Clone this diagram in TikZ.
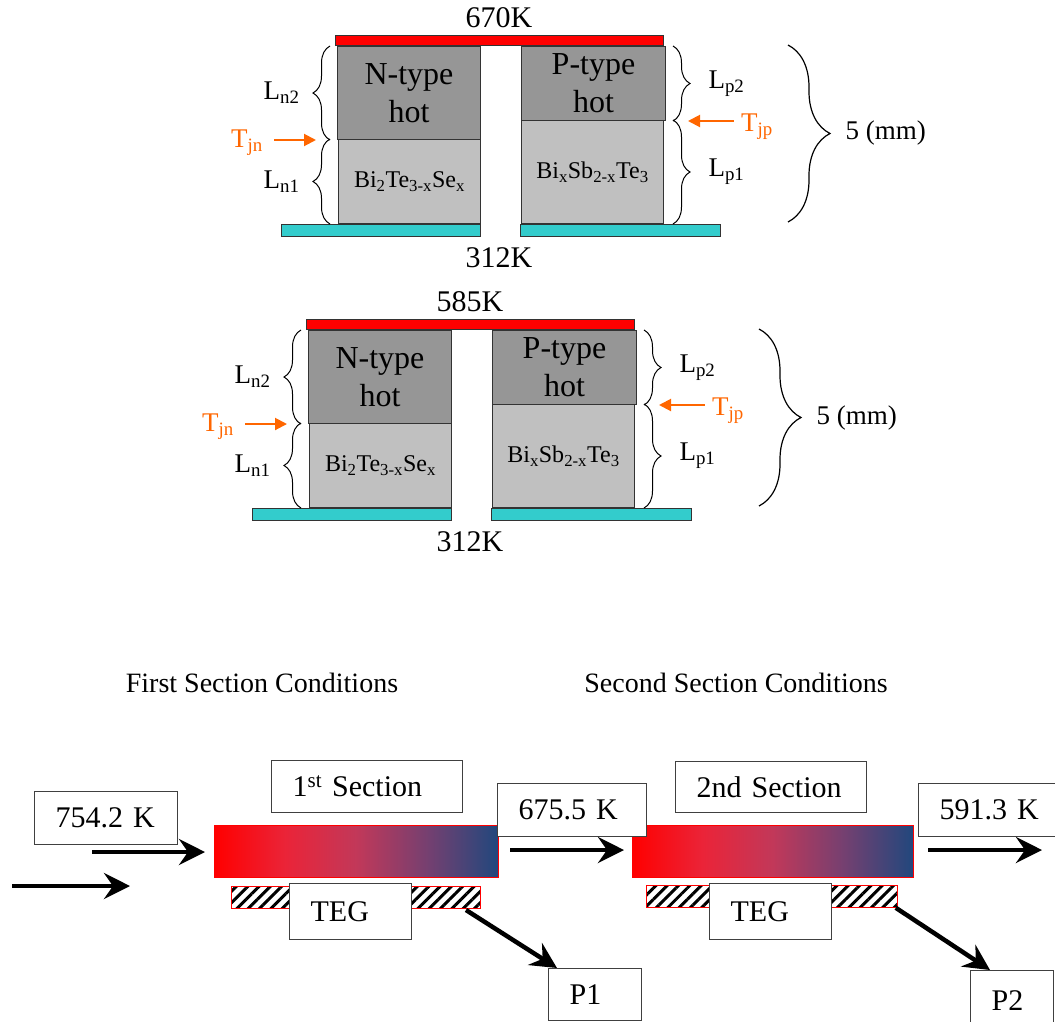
\documentclass[tikz,border=0pt]{standalone}
\usepackage{fontspec}
\setmainfont{Liberation Serif}
\usetikzlibrary{arrows.meta, positioning, decorations.pathreplacing, patterns.meta}

\definecolor{coldblue}{RGB}{51,204,204}
\definecolor{hotleg}{RGB}{150,150,150}
\definecolor{coldleg}{RGB}{192,192,192}
\definecolor{jcol}{RGB}{255,102,0}

\pgfdeclarehorizontalshading{pipeshade}{100bp}{rgb(0bp)=(1,0,0); rgb(25bp)=(1,0,0);
	rgb(37.5bp)=(0.92,0.14,0.22); rgb(50bp)=(0.76,0.22,0.35); rgb(62.5bp)=(0.46,0.25,0.44);
	rgb(75bp)=(0.13,0.28,0.49); rgb(100bp)=(0.13,0.28,0.49)}

\begin{document}
\begin{tikzpicture}[x=1pt, y=-1pt,
		plate/.style={draw=black!80, line width=1pt, inner sep=0pt, anchor=north west},
		hotplate/.style={plate, fill=red},
		coldplate/.style={plate, fill=coldblue},
		legtop/.style={plate, fill=hotleg, align=center, font=\fontsize{32}{38}\selectfont},
		legbot/.style={plate, fill=coldleg, font=\fontsize{24}{28}\selectfont},
		templbl/.style={inner sep=0pt, font=\fontsize{30}{36}\selectfont},
		dimlbl/.style={inner sep=0pt, font=\fontsize{27}{32}\selectfont},
		jlbl/.style={dimlbl, text=jcol},
		jarrow/.style={draw=jcol, line width=2pt, -{Triangle[length=12pt,width=12pt]}},
		brc/.style={decorate, decoration={brace, amplitude=17pt}, line width=1pt},
		bigbrc/.style={decorate, decoration={brace, amplitude=42pt}, line width=1.2pt},
		condlbl/.style={inner sep=0pt, font=\fontsize{28}{34}\selectfont},
		tbox/.style={draw=black!75, line width=1.2pt, fill=white, anchor=north west, inner ysep=0pt, inner xsep=21pt, align=left, font=\fontsize{30}{36}\selectfont},
		hotpipe/.style={draw=red, line width=0.6pt, shading=pipeshade, inner sep=0pt, anchor=north west},
		tegstrip/.style={draw=red, line width=0.8pt, pattern={Lines[angle=45, distance=8pt, line width=3pt]}, inner sep=0pt, anchor=north west},
		flow/.style={line width=4.5pt, -{Stealth[length=26pt, width=26pt, inset=9pt]}}]
	
	\useasboundingbox (0,0) rectangle (1055,1021);
	
	% the two leg pairs
	\foreach \s/\dx/\dy/\hot in {a/0/0/670K, b/-29/284/585K}{
		\begin{scope}[shift={(\dx,\dy)}]
			\node[hotplate, minimum width=328pt, minimum height=10pt] (hot\s) at (335,35) {};
			\node[legtop, minimum width=143pt, minimum height=93pt] (ntop\s) at (337,46) {N-type\\hot};
			\node[legbot, minimum width=142pt, minimum height=84pt] (nbot\s) at (338,139) {Bi\textsubscript{2}Te\textsubscript{3-x}Se\textsubscript{x}};
			\node[legtop, minimum width=144pt, minimum height=74pt] (ptop\s) at (521,46) {P-type\\hot};
			\node[legbot, minimum width=142pt, minimum height=103pt] (pbot\s) at (521,120) {Bi\textsubscript{x}Sb\textsubscript{2-x}Te\textsubscript{3}};
			\node[coldplate, minimum width=199pt, minimum height=12pt] (coldn\s) at (281,224) {};
			\node[coldplate, minimum width=200pt, minimum height=12pt] (coldp\s) at (520,224) {};
			
			\node[templbl] (thot\s) at (499,18) {\hot};
			\node[templbl] (tcold\s) at (499,258) {312K};
			
			\draw[brc] ([xshift=-7pt]ntop\s.south west) -- ([xshift=-7pt]ntop\s.north west)
				node[dimlbl, midway, left=30pt] (ln2\s) {L\textsubscript{n2}};
			\draw[brc] ([xshift=-8pt]nbot\s.south west) -- ([xshift=-8pt]nbot\s.north west)
				node[dimlbl, midway, left=30pt] (ln1\s) {L\textsubscript{n1}};
			\draw[brc] ([xshift=7pt]ptop\s.north east) -- ([xshift=7pt]ptop\s.south east)
				node[dimlbl, midway, right=35pt] (lp2\s) {L\textsubscript{p2}};
			\draw[brc] ([xshift=9pt]pbot\s.north east) -- ([xshift=9pt]pbot\s.south east)
				node[dimlbl, midway, right=35pt] (lp1\s) {L\textsubscript{p1}};
			\draw[bigbrc] (788,45) -- (788,222)
				node[dimlbl, midway, right=57pt] (len\s) {5 (mm)};
			
			\node[jlbl] (tjn\s) at (247,143) {T\textsubscript{jn}};
			\node[jlbl] (tjp\s) at (757,127) {T\textsubscript{jp}};
			\draw[jarrow, shorten <=11pt, shorten >=21pt] (tjn\s.east |- ntop\s.south west) -- (ntop\s.south west);
			\draw[jarrow, shorten <=7pt, shorten >=22pt] (tjp\s.west |- ptop\s.south east) -- (ptop\s.south east);
		\end{scope}
	}
	
	% sections
	\node[condlbl] (cond1) at (262,683) {First Section Conditions};
	\node[condlbl] (cond2) at (736,683) {Second Section Conditions};
	
	\node[hotpipe, minimum width=284pt, minimum height=52pt] (pipe1) at (214,825) {};
	\node[hotpipe, minimum width=281pt, minimum height=52pt] (pipe2) at (632,825) {};
	\node[tegstrip, minimum width=249pt, minimum height=22pt] (strip1) at (230,885) {};
	\node[tegstrip, minimum width=251pt, minimum height=22pt] (strip2) at (646,885) {};
	
	\node[tbox, minimum width=143pt, text width=101pt, minimum height=53pt] (tin) at (34,791) {754.2 K};
	\node[tbox, minimum width=191pt, text width=149pt, minimum height=52pt] (sec1) at (271,760) {1\textsuperscript{st} Section};
	\node[tbox, minimum width=149pt, text width=107pt, minimum height=53pt] (tmid) at (497,783) {675.5 K};
	\node[tbox, minimum width=191pt, text width=149pt, minimum height=51pt] (sec2) at (675,761) {2nd Section};
	\node[tbox, minimum width=145pt, text width=103pt, minimum height=53pt] (tout) at (918,783) {591.3 K};
	\node[tbox, minimum width=122pt, text width=80pt, minimum height=56pt] (teg1) at (289,883) {TEG};
	\node[tbox, minimum width=122pt, text width=80pt, minimum height=56pt] (teg2) at (709,883) {TEG};
	\node[tbox, minimum width=93pt, text width=51pt, minimum height=52pt] (pone) at (548,968) {P1};
	\node[tbox, minimum width=83pt, text width=41pt, minimum height=60pt] (ptwo) at (970,970) {P2};
	
	\coordinate (in1) at (92,852);
	\coordinate (in2s) at (12,886);
	\coordinate (in2e) at (130,886);
	\coordinate (mid1) at (510,850);
	\coordinate (out1) at (928,850);
	\coordinate (out2) at (1042,850);
	
	\draw[flow, shorten >=9pt] (in1) -- (in1 -| pipe1.west);
	\draw[flow] (in2s) -- (in2e);
	\draw[flow, shorten >=8pt] (mid1) -- (mid1 -| pipe2.west);
	\draw[flow] (out1) -- (out2);
	\draw[flow] ([xshift=-16pt]strip1.south east) -- ([xshift=9pt]pone.north west);
	\draw[flow] ([xshift=-2pt]strip2.south east) -- ([xshift=20pt]ptwo.north west);
\end{tikzpicture}
\end{document}
